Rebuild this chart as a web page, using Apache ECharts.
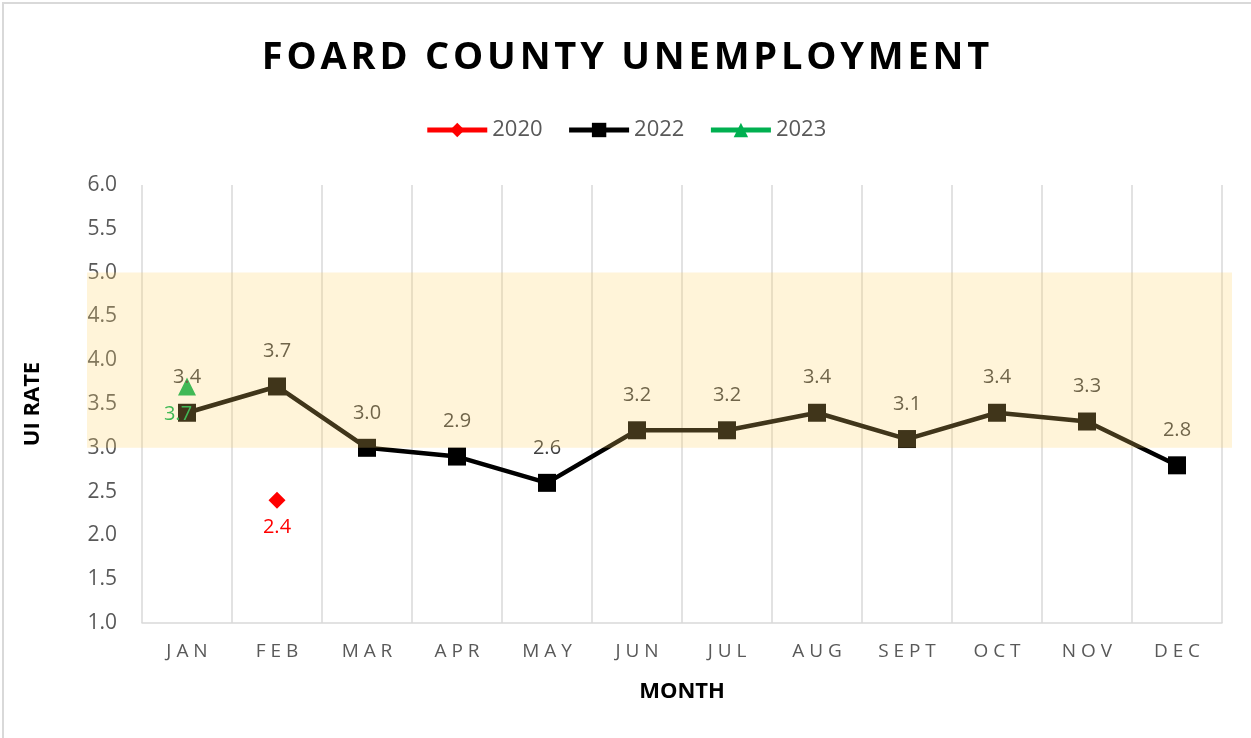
<!DOCTYPE html>
<html>
<head>
<meta charset="utf-8">
<script src="https://cdn.jsdelivr.net/npm/echarts@6/dist/echarts.min.js"></script>
<style>
  html, body { margin: 0; padding: 0; background: #fff; }
  #chart { width: 1251px; height: 738px; }
</style>
</head>
<body>
<div id="chart"></div>
<script>
const months = ['JAN', 'FEB', 'MAR', 'APR', 'MAY', 'JUN', 'JUL', 'AUG', 'SEPT', 'OCT', 'NOV', 'DEC']
const rate2020 = [null, 2.4, null, null, null, null, null, null, null, null, null, null]
const rate2022 = [3.4, 3.7, 3.0, 2.9, 2.6, 3.2, 3.2, 3.4, 3.1, 3.4, 3.3, 2.8]
const rate2023 = [3.7, null, null, null, null, null, null, null, null, null, null, null]
const yMin = 1
const yMax = 6
const yStep = 0.5
const band = [3, 5]

const font = '"Open Sans", "Noto Sans", sans-serif'
// fake letter spacing with thin spaces
const spaced = (s, sep) => s.split('').join(sep)

const chart = echarts.init(document.getElementById('chart'))

chart.setOption({
  animation: false,
  textStyle: { fontFamily: font },
  title: {
    text: spaced('FOARD COUNTY UNEMPLOYMENT', '\u200a'),
    left: 'center',
    top: 34,
    textStyle: { fontSize: 38, fontWeight: 'bold', color: '#000', fontFamily: font }
  },
  legend: {
    top: 114,
    left: 'center',
    itemWidth: 60,
    itemHeight: 18,
    itemGap: 24,
    lineStyle: { width: 5 },
    textStyle: { fontSize: 22, color: '#595959', fontFamily: font },
    data: ['2020', '2022', '2023']
  },
  grid: { left: 142, right: 29, top: 185, bottom: 115 },
  xAxis: {
    type: 'category',
    data: months,
    boundaryGap: true,
    axisLine: { show: true, lineStyle: { color: '#d9d9d9', width: 1.5 } },
    axisTick: { show: false },
    splitLine: { show: true, lineStyle: { color: '#d9d9d9', width: 1.5 } },
    axisLabel: {
      color: '#595959',
      fontSize: 19,
      margin: 19,
      formatter: (v) => spaced(v, ' ')
    },
    name: 'MONTH',
    nameLocation: 'middle',
    nameGap: 58,
    nameTextStyle: { fontSize: 22, fontWeight: 'bold', color: '#000' }
  },
  yAxis: {
    type: 'value',
    min: yMin,
    max: yMax,
    interval: yStep,
    axisLine: { show: false },
    axisTick: { show: false },
    splitLine: { show: false },
    axisLabel: {
      color: '#595959',
      fontSize: 21,
      margin: 25,
      formatter: (v) => v.toFixed(1)
    },
    name: 'UI RATE',
    nameLocation: 'middle',
    nameGap: 98,
    nameTextStyle: { fontSize: 22, fontWeight: 'bold', color: '#000' }
  },
  series: [
    {
      name: '2020',
      type: 'line',
      data: rate2020,
      symbol: 'diamond',
      symbolSize: 17,
      color: '#ff0000',
      lineStyle: { width: 4, color: '#ff0000' },
      label: { show: true, position: 'bottom', distance: 8, color: '#ff0000', fontSize: 20, formatter: (p) => p.value.toFixed(1) },
      emphasis: { disabled: true }
    },
    {
      name: '2022',
      type: 'line',
      data: rate2022,
      symbol: 'rect',
      symbolSize: 18,
      color: '#000',
      lineStyle: { width: 4.5, color: '#000' },
      label: { show: true, position: 'top', distance: 16, color: '#404040', fontSize: 20, formatter: (p) => p.value.toFixed(1) },
      emphasis: { disabled: true }
    },
    {
      name: '2023',
      type: 'line',
      data: rate2023,
      symbol: 'triangle',
      symbolSize: 18,
      color: '#00b050',
      lineStyle: { width: 4, color: '#00b050' },
      z: 3,
      label: { show: true, position: 'bottom', distance: 9, offset: [-9, 0], color: '#00b050', fontSize: 20, formatter: (p) => p.value.toFixed(1) },
      emphasis: { disabled: true }
    }
  ]
})

// translucent target band drawn over everything, from the y scale
const grid = chart.getModel().getComponent('grid', 0).coordinateSystem.getRect()
const yTop = chart.convertToPixel({ yAxisIndex: 0 }, band[1])
const yBot = chart.convertToPixel({ yAxisIndex: 0 }, band[0])
chart.setOption({
  graphic: [
    {
      type: 'rect',
      z: 100,
      silent: true,
      shape: { x: grid.x - 55, y: yTop, width: grid.width + 65, height: yBot - yTop },
      style: { fill: 'rgba(255, 211, 103, 0.25)' }
    },
    {
      type: 'rect',
      z: 100,
      silent: true,
      shape: { x: 3, y: 3, width: 1400, height: 900 },
      style: { fill: 'none', stroke: '#d9d9d9', lineWidth: 2 }
    }
  ]
})
</script>
</body>
</html>
